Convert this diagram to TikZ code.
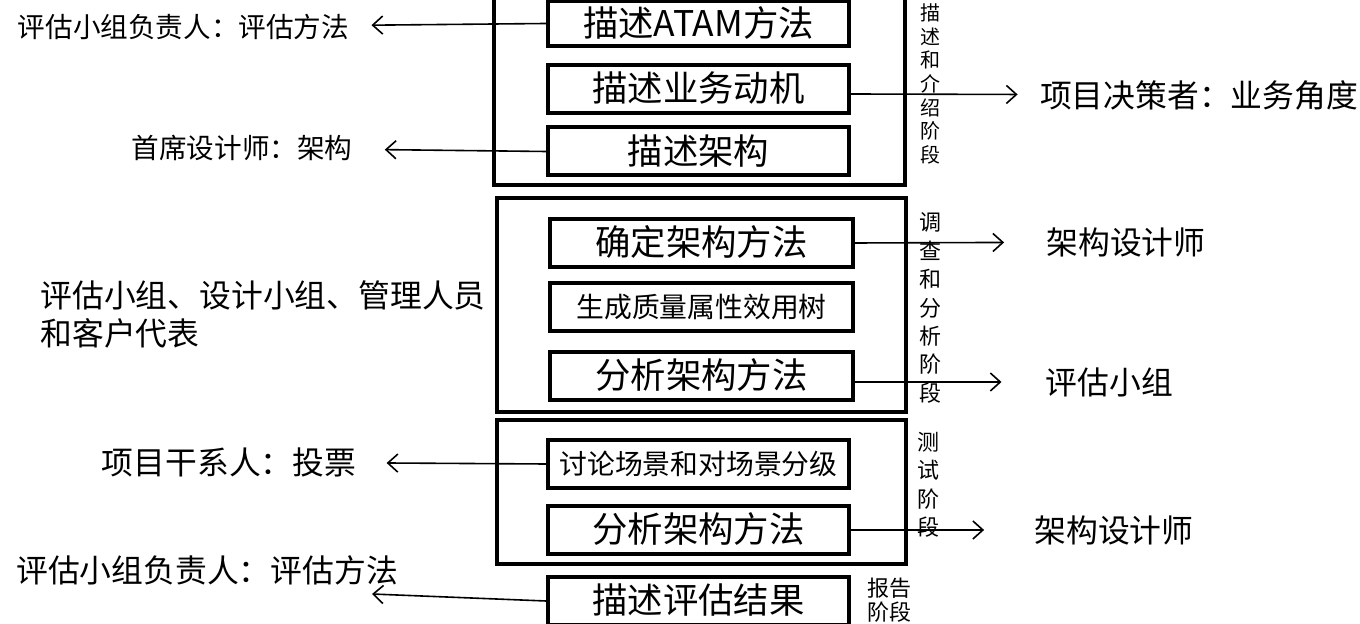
\documentclass[tikz,border=0pt]{standalone}
\usepackage{fontspec}
\setmainfont{Noto Sans CJK SC}
\usetikzlibrary{arrows.meta}

\begin{document}
\begin{tikzpicture}[
    x=0.5pt, y=-0.5pt,
    every node/.style={inner sep=0pt, align=center},
    box/.style={draw, line width=2pt, minimum width=150.5pt, minimum height=24pt},
    task/.style={box, text height=1.35em, text depth=0.05em, font=\fontsize{17.7}{20}\selectfont},
    smalltask/.style={box, font=\fontsize{13.9}{16}\selectfont},
    phase/.style={draw, line width=1.6pt},
    phaselabel/.style={font=\fontsize{11}{14.2}\selectfont},
    role/.style={font=\fontsize{15.9}{19}\selectfont},
    smallrole/.style={font=\fontsize{13.8}{16}\selectfont},
    arrow/.style={line width=0.8pt, -{Straight Barb[length=5pt, width=9pt]}}
  ]
    \useasboundingbox (0,0) rectangle (1360,624);
    \clip (0,0) rectangle (1360,624);

    % Phase frames
    \node[phase, minimum width=205.5pt, minimum height=112.5pt] (present) at (699.5,72.5) {};
    \node[phase, minimum width=204.5pt, minimum height=107pt] (investigate) at (701.5,305) {};
    \node[phase, minimum width=204.5pt, minimum height=72pt] (testing) at (701.5,492) {};

    % Steps inside the phases
    \node[task, minimum height=22.5pt] (atam) at (698.5,23.5) {描述ATAM方法};
    \node[task] (motive) at (698.5,89) {描述业务动机};
    \node[task] (arch) at (698.5,151.5) {描述架构};
    \node[task, minimum width=151.5pt] (approach) at (701.5,243) {确定架构方法};
    \node[smalltask, minimum width=151.5pt] (tree) at (701.5,307.5) {生成质量属性效用树};
    \node[task, minimum width=151.5pt] (analyze) at (701.5,376) {分析架构方法};
    \node[smalltask] (scenario) at (698.5,464) {讨论场景和对场景分级};
    \node[task] (analyze2) at (698.5,530) {分析架构方法};
    \node[task] (result) at (698.5,601) {描述评估结果};

    % Phase names
    \node[phaselabel, font=\fontsize{10}{11.85}\selectfont] (presentlbl) at (930,84) {描\\述\\和\\介\\绍\\阶\\段};
    \node[phaselabel] (investigatelbl) at (930,308) {调\\查\\和\\分\\析\\阶\\段};
    \node[phaselabel] (testinglbl) at (928,485) {测\\试\\阶\\段};
    \node[phaselabel, font=\fontsize{11}{12}\selectfont] (reportlbl) at (889,600) {报告\\阶段};

    % Participants, left side
    \node[smallrole] (lead1) at (183.5,27) {评估小组负责人：评估方法};
    \node[smallrole] (chief) at (242,148) {首席设计师：架构};
    \node[role, anchor=west, align=left] (team) at (40,314) {评估小组、设计小组、管理人员\\和客户代表};
    \node[role] (stake) at (229,462) {项目干系人：投票};
    \node[role] (lead2) at (207,570) {评估小组负责人：评估方法};
    \coordinate (lead2tip) at (372,594);

    % Participants, right side
    \node[role] (dec) at (1199,95) {项目决策者：业务角度};
    \node[role] (arch1) at (1126,242) {架构设计师};
    \node[role] (evalteam) at (1109.5,382) {评估小组};
    \node[role] (arch2) at (1114,530) {架构设计师};

    % Connections
    \draw[arrow, shorten >=11pt] (atam.west) -- (lead1);
    \draw[arrow, shorten >=16pt] (arch.west) -- (chief);
    \draw[arrow, shorten >=11pt] ([yshift=-2.5pt]motive.east) -- (dec);
    \draw[arrow, shorten >=21pt] (approach.east) -- (arch1);
    \draw[arrow, shorten >=22pt] ([yshift=-3pt]analyze.east) -- (evalteam);
    \draw[arrow, shorten >=15pt] (scenario.west) -- (stake);
    \draw[arrow, shorten >=25pt] (analyze2.east) -- (arch2);
    \draw[arrow] (result.west) -- (lead2tip);

  \end{tikzpicture}
\end{document}
